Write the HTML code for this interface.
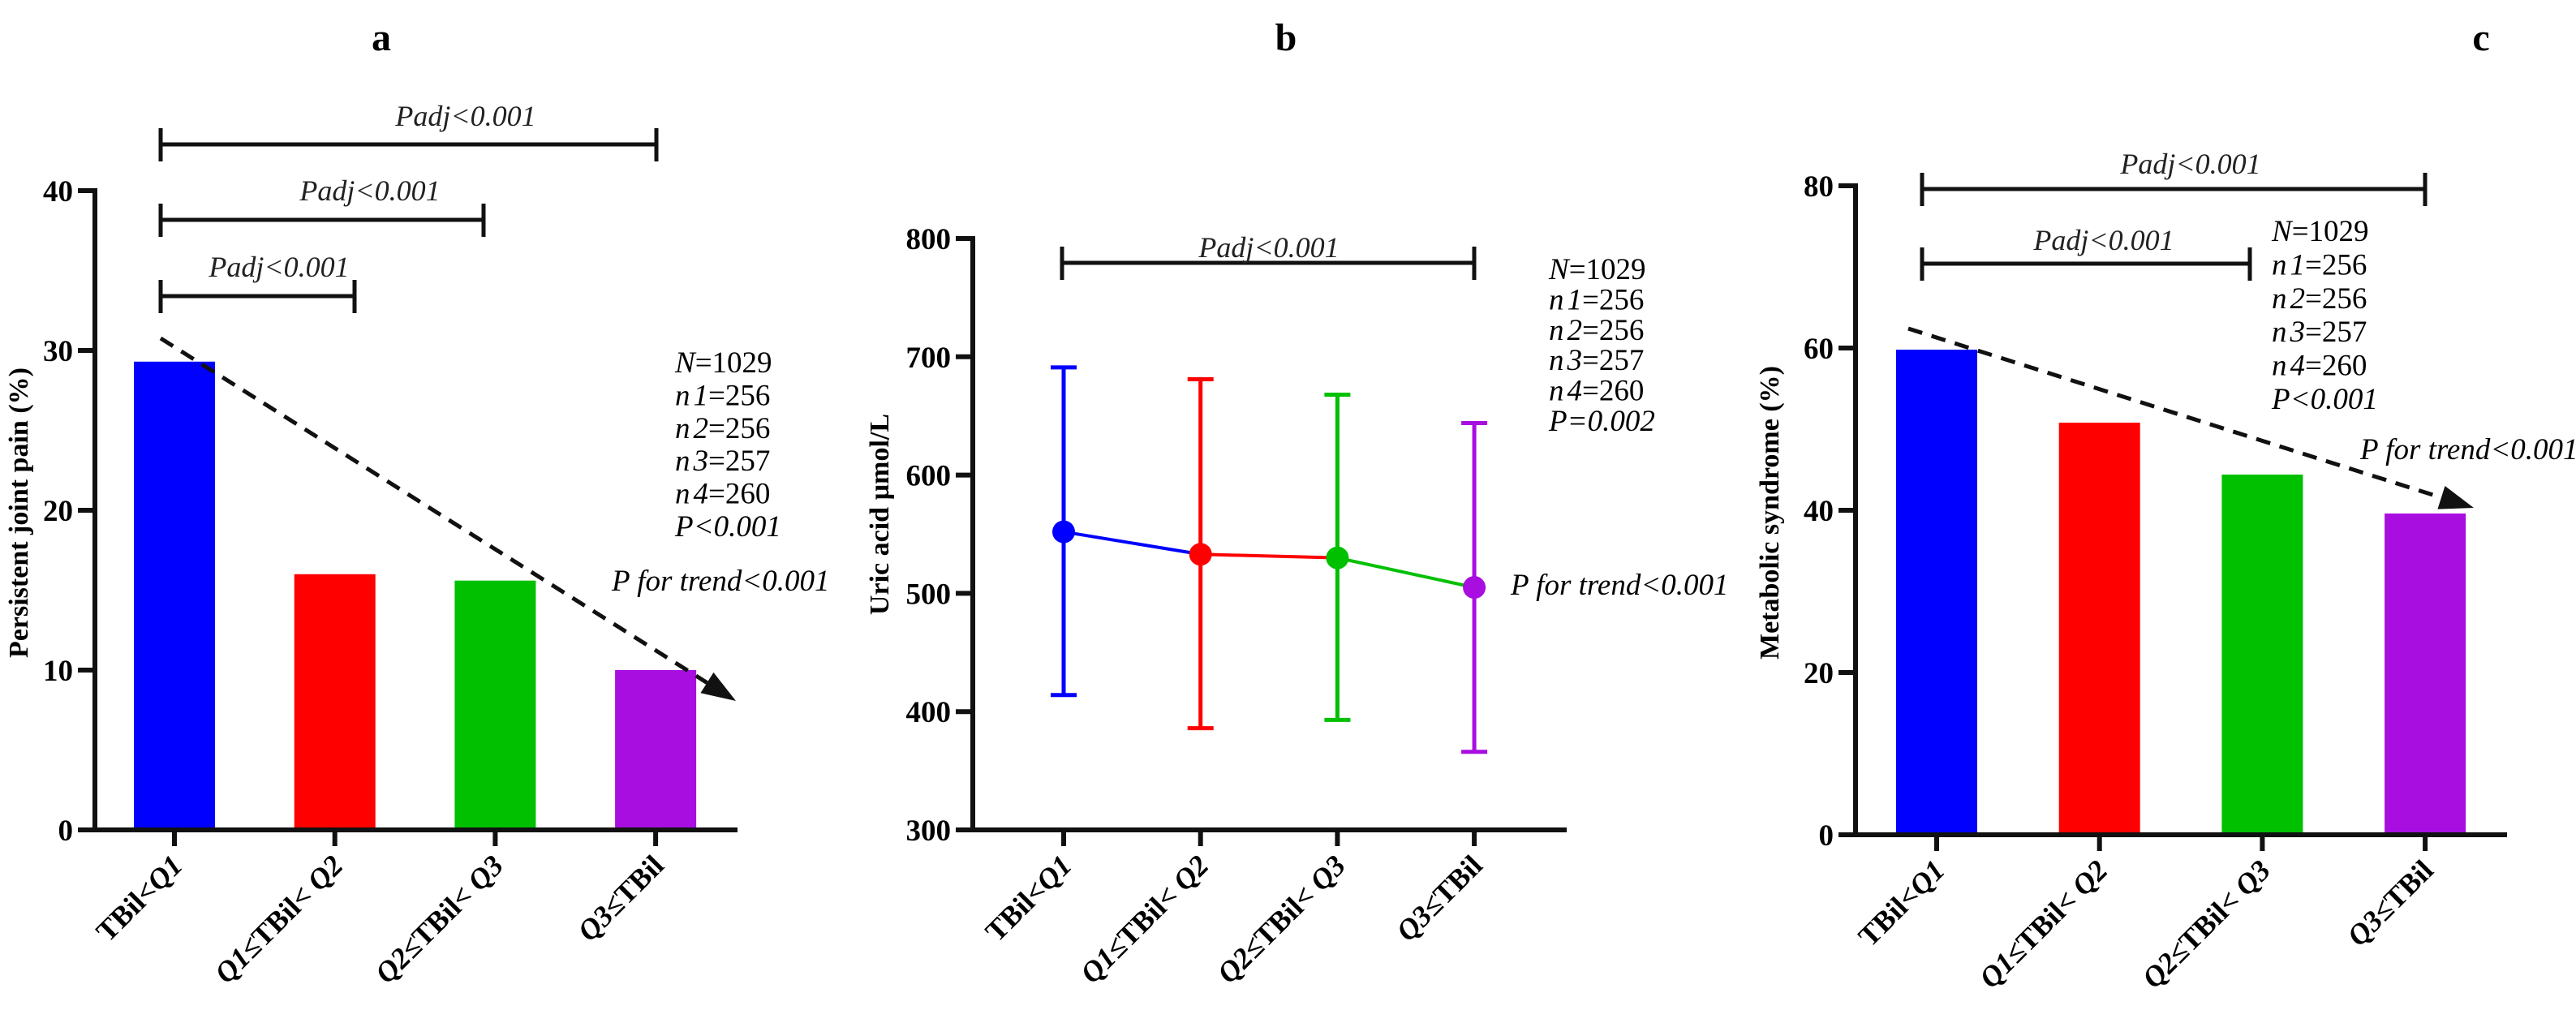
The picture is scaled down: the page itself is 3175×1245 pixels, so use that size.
<!DOCTYPE html>
<html><head><meta charset="utf-8"><style>
html,body{margin:0;padding:0;background:#fff;}
svg{display:block;font-family:"Liberation Serif",serif;}
</style></head><body>
<svg id="fig" width="3175" height="1245" viewBox="0 0 3175 1245" xmlns="http://www.w3.org/2000/svg"></svg>
<script>
const categories = ["TBil<Q1","Q1≤TBil< Q2","Q2≤TBil< Q3","Q3≤TBil"];
const colors = ["#0000ff","#ff0000","#00c000","#a80ee0"];
const jointPain = [29.3, 16.0, 15.6, 10.0];
const jointTicks = [0,10,20,30,40];
const uricMean = [552, 533, 530, 505];
const uricUpper = [691, 681, 668, 644];
const uricLower = [414, 386, 393, 366];
const uricTicks = [300,400,500,600,700,800];
const metSyn = [59.8, 50.8, 44.4, 39.6];
const metTicks = [0,20,40,60,80];
const statsA = ["N=1029","n1=256","n2=256","n3=257","n4=260","P<0.001"];
const statsB = ["N=1029","n1=256","n2=256","n3=257","n4=260","P=0.002"];
const statsC = ["N=1029","n1=256","n2=256","n3=257","n4=260","P<0.001"];

const svg = document.getElementById('fig');
const NS = "http://www.w3.org/2000/svg";
function el(tag, attrs, parent){const e=document.createElementNS(NS,tag);for(const k in attrs)e.setAttribute(k,attrs[k]);(parent||svg).appendChild(e);return e;}

function catLabel(text, x, y){
  const t = el('text',{x:x,y:y,'text-anchor':'end','font-size':36,'font-weight':'bold',transform:`rotate(-45 ${x} ${y})`});
  
  
  const parts = text.split(/(Q\d)/);
  parts.forEach(p=>{ if(!p) return; const s=el('tspan',{},t); if(/Q\d/.test(p)) s.setAttribute('font-style','italic'); s.textContent=p; });
}
function statText(lines, x, y0, dy, name){
  lines.forEach((s,i)=>{
    const t = el('text',{x:x,y:y0+i*dy,'font-size':37,'font-style':'italic'});
    
    
    const m = s.match(/^([A-Za-z]+)(\d?)(.*)$/);
    const a=el('tspan',{},t); a.textContent=m[1];
    if(m[2]){const b=el('tspan',{dx:4},t); b.textContent=m[2];}
    const c=el('tspan',{'font-style':'normal'},t); c.textContent=m[3];
    if(s.startsWith('P')) c.setAttribute('font-style','italic');
  });
}
function bracket(x1,x2,y,lx,ly,name){
  const g = el('g',{stroke:'#111','stroke-width':5,fill:'none'});
  
  
  el('line',{x1:x1,x2:x2,y1:y,y2:y},g);
  el('line',{x1:x1,x2:x1,y1:y-20,y2:y+21},g);
  el('line',{x1:x2,x2:x2,y1:y-20,y2:y+21},g);
  const t = el('text',{x:lx,y:ly,'text-anchor':'middle','font-size':36,'font-style':'italic',fill:'#222'});
  
  
  t.textContent='Padj<0.001';
}
function axes(P, ticks, ylabel, lblX, lblY, tickName){
  const yS = v => P.y0 - (v-P.vmin)/(P.vmax-P.vmin)*(P.y0-P.y1);
  const g = el('g',{stroke:'#111','stroke-width':6,fill:'none'});
  
  
  el('line',{x1:P.ax,x2:P.ax,y1:yS(P.vmax)-3,y2:P.y0+3},g);
  el('line',{x1:P.ax-21,x2:P.xend,y1:P.y0,y2:P.y0},g);
  ticks.forEach(v=>{
    el('line',{x1:P.ax-21,x2:P.ax,y1:yS(v),y2:yS(v)},g);
    const t=el('text',{x:P.ax-27,y:yS(v)+13,'text-anchor':'end','font-size':37,'font-weight':'bold'});
    
    
    t.textContent=v;
  });
  categories.forEach((c,i)=>{
    const cx=P.c0+i*P.dx;
    el('line',{x1:cx,x2:cx,y1:P.y0,y2:P.y0+20},g);
    catLabel(c, cx+12, P.y0+46);
  });
  const t=el('text',{x:lblX,y:lblY,'text-anchor':'middle','font-size':34,'font-weight':'bold',transform:`rotate(-90 ${lblX} ${lblY})`});
  
  
  t.textContent=ylabel;
  return yS;
}
function arrow(x1,y1,x2,y2,name){
  const g=el('g',{});
  
  
  const ang=Math.atan2(y2-y1,x2-x1), L=42, W=15;
  const bx=x2-L*Math.cos(ang), by=y2-L*Math.sin(ang);
  el('line',{x1:x1,y1:y1,x2:bx,y2:by,stroke:'#111','stroke-width':5,'stroke-dasharray':'18 12'},g);
  const px=-Math.sin(ang)*W, py=Math.cos(ang)*W;
  el('polygon',{points:`${x2},${y2} ${bx+px},${by+py} ${bx-px},${by-py}`,fill:'#111'},g);
}
function title(t,x,y){const e=el('text',{x:x,y:y,'text-anchor':'middle','font-size':48,'font-weight':'bold'});e.textContent=t;}

// Panel a
title('a',470,62);
const PA={ax:117,xend:909,y0:1023,y1:235,vmin:0,vmax:40,c0:215,dx:197.7};
const yA=axes(PA,jointTicks,'Persistent joint pain (%)',34,632,'y-tick-label');
jointPain.forEach((v,i)=>{const cx=PA.c0+i*PA.dx;const r=el('rect',{x:cx-50,y:yA(v),width:100,height:PA.y0-yA(v)-3,fill:colors[i]});
});
bracket(198,809,178,574,155,'bracket-a-1-4');
bracket(198,596,271,456,247,'bracket-a-1-3');
bracket(198,437,365,344,341,'bracket-a-1-2');
arrow(198,417,907,864,'trend-arrow-a');
statText(statsA,832,459,40.4,'stats-text');
(function(){const t=el('text',{x:754,y:728,'font-size':37,'font-style':'italic'});t.textContent='P for trend<0.001';})();

// Panel b
title('b',1585,62);
const PB={ax:1199,xend:1931,y0:1023,y1:294,vmin:300,vmax:800,c0:1311,dx:168.7};
const yB=axes(PB,uricTicks,'Uric acid µmol/L',1095,634,'y-tick-label');
for(let i=0;i<3;i++){const cx=PB.c0+i*PB.dx;const l=el('line',{x1:cx,y1:yB(uricMean[i]),x2:cx+PB.dx,y2:yB(uricMean[i+1]),stroke:colors[i],'stroke-width':4});
}
uricMean.forEach((v,i)=>{const cx=PB.c0+i*PB.dx;const g=el('g',{stroke:colors[i],'stroke-width':5});

el('line',{x1:cx,x2:cx,y1:yB(uricUpper[i]),y2:yB(uricLower[i])},g);
el('line',{x1:cx-16,x2:cx+16,y1:yB(uricUpper[i]),y2:yB(uricUpper[i])},g);
el('line',{x1:cx-16,x2:cx+16,y1:yB(uricLower[i]),y2:yB(uricLower[i])},g);
const c=el('circle',{cx:cx,cy:yB(v),r:14,fill:colors[i]});});
bracket(1309,1817,324,1564,317,'bracket-b-1-4');
statText(statsB,1909,344,37.4,'stats-text');
(function(){const t=el('text',{x:1862,y:733,'font-size':37,'font-style':'italic'});t.textContent='P for trend<0.001';})();

// Panel c
title('c',3058,62);
const PC={ax:2287,xend:3090,y0:1029,y1:229,vmin:0,vmax:80,c0:2387,dx:200.7};
const yC=axes(PC,metTicks,'Metabolic syndrome (%)',2192,632,'y-tick-label');
metSyn.forEach((v,i)=>{const cx=PC.c0+i*PC.dx;const r=el('rect',{x:cx-50,y:yC(v),width:100,height:PC.y0-yC(v)-3,fill:colors[i]});
});
bracket(2369,2989,233,2700,214,'bracket-c-1-4');
bracket(2369,2773,325,2593,308,'bracket-c-1-3');
arrow(2352,405,3049,626,'trend-arrow-c');
statText(statsC,2800,297,41.4,'stats-text');
(function(){const t=el('text',{x:2909,y:566,'font-size':37,'font-style':'italic'});t.textContent='P for trend<0.001';})();
</script>
</body></html>
